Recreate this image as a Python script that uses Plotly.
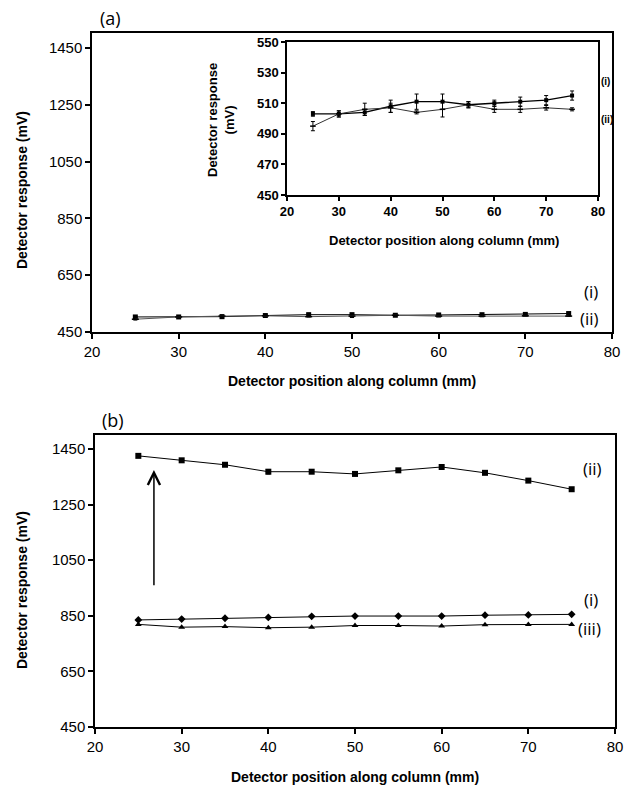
import plotly.graph_objects as go

# ---------------- data ----------------
positions = [25, 30, 35, 40, 45, 50, 55, 60, 65, 70, 75]

# panel (a) (same data shown in main plot and inset)
a_i = [503, 503, 504, 508, 511, 511, 509, 510, 511, 512, 515]
a_i_err = [1.5, 2, 2, 4, 5, 5, 2, 2, 3, 3, 3]
a_ii = [495, 503, 506, 507, 504, 506, 509, 506, 506, 507, 506]
a_ii_err = [3, 2, 4, 3, 1, 5, 2, 2, 2, 1.5, 1]

# panel (b)
b_ii = [1425, 1409, 1393, 1368, 1368, 1360, 1373, 1385, 1364, 1336, 1305]
b_ii_err = [3, 3, 3, 8, 4, 6, 3, 5, 5, 3, 3]
b_i = [835, 838, 841, 844, 848, 849, 849, 849, 852, 853, 855]
b_iii = [819, 809, 811, 807, 809, 815, 815, 813, 818, 819, 819]

main_yticks = [450, 650, 850, 1050, 1250, 1450]
inset_yticks = [450, 470, 490, 510, 530, 550]
xticks = [20, 30, 40, 50, 60, 70, 80]

W, H = 626, 791
def px(x): return x / W
def py(y): return 1 - y / H

fig = go.Figure()

line = dict(color="black", width=1)

def err(v):
    return dict(type="data", array=v, color="black", thickness=1, width=2)

# panel (a) main
fig.add_trace(go.Scatter(x=positions, y=a_i, error_y=err(a_i_err), mode="lines+markers",
                         line=line, marker=dict(symbol="square", size=5, color="black"),
                         xaxis="x", yaxis="y", showlegend=False))
fig.add_trace(go.Scatter(x=positions, y=a_ii, error_y=err(a_ii_err), mode="lines+markers",
                         line=dict(color="#555", width=1), marker=dict(symbol="line-ew", size=5, line=dict(width=1.5, color="black")),
                         xaxis="x", yaxis="y", showlegend=False))
# inset
fig.add_trace(go.Scatter(x=positions, y=a_i, error_y=err(a_i_err), mode="lines+markers",
                         line=dict(color="black", width=1.3), marker=dict(symbol="square", size=4, color="black"),
                         xaxis="x3", yaxis="y3", showlegend=False))
fig.add_trace(go.Scatter(x=positions, y=a_ii, error_y=err(a_ii_err), mode="lines+markers",
                         line=dict(color="#333", width=1), marker=dict(symbol="line-ew", size=4, line=dict(width=1.5, color="black")),
                         xaxis="x3", yaxis="y3", showlegend=False))
# panel (b)
fig.add_trace(go.Scatter(x=positions, y=b_ii, error_y=err(b_ii_err), mode="lines+markers",
                         line=line, marker=dict(symbol="square", size=6, color="black"),
                         xaxis="x2", yaxis="y2", showlegend=False))
fig.add_trace(go.Scatter(x=positions, y=b_i, mode="lines+markers",
                         line=line, marker=dict(symbol="diamond", size=6, color="black"),
                         xaxis="x2", yaxis="y2", showlegend=False))
fig.add_trace(go.Scatter(x=positions, y=b_iii, mode="lines+markers",
                         line=line, marker=dict(symbol="triangle-up", size=6, color="black"),
                         xaxis="x2", yaxis="y2", showlegend=False))

tickfont = dict(family="Liberation Sans, Arial", size=15, color="black")
axcommon = dict(showgrid=False, zeroline=False, showline=True, linecolor="black", linewidth=1.5,
                mirror=True, ticks="outside", ticklen=5, tickwidth=1.5, tickcolor="black",
                tickfont=tickfont)

inset_tickfont = dict(family="Liberation Sans, Arial", size=13, color="black", weight="bold")
inaxcommon = dict(showgrid=False, zeroline=False, showline=True, linecolor="black", linewidth=1.5,
                  mirror=True, ticks="outside", ticklen=4, tickwidth=1.5, tickcolor="black",
                  tickfont=inset_tickfont)

fig.update_layout(
    width=W, height=H, margin=dict(l=0, r=0, t=0, b=0, autoexpand=False),
    paper_bgcolor="white", plot_bgcolor="white",
    xaxis=dict(domain=[px(92), px(612)], range=[20, 80], tickvals=xticks, anchor="y", **axcommon),
    yaxis=dict(domain=[py(332), py(33)], range=[450, 1503], tickvals=main_yticks, anchor="x", **axcommon),
    xaxis2=dict(domain=[px(95), px(615)], range=[20, 80], tickvals=xticks, anchor="y2", **axcommon),
    yaxis2=dict(domain=[py(727), py(435)], range=[450, 1500], tickvals=main_yticks, anchor="x2", **axcommon),
    xaxis3=dict(domain=[px(287), px(598)], range=[20, 80], tickvals=xticks, anchor="y3", **inaxcommon),
    yaxis3=dict(domain=[py(195), py(42)], range=[450, 550], tickvals=inset_yticks, anchor="x3", **inaxcommon),
)

title_font = dict(family="Liberation Sans, Arial", size=14, color="black", weight="bold")
lab_font = dict(family="Open Sans, Noto Sans", size=17, color="black")

ann = []
def A(text, x, y, font, rot=0, xanchor="center", yanchor="middle"):
    ann.append(dict(text=text, x=px(x), y=py(y), xref="paper", yref="paper", showarrow=False,
                    font=font, textangle=rot, xanchor=xanchor, yanchor=yanchor))

A("Detector response (mV)", 22, 190, title_font, rot=-90)
A("Detector position along column (mm)", 352, 381, title_font)
A("Detector response (mV)", 22, 590, title_font, rot=-90)
A("Detector position along column (mm)", 355, 777, title_font)
A("Detector response<br>(mV)", 221, 120, dict(family="Liberation Sans, Arial", size=13, color="black", weight="bold"), rot=-90)
A("Detector position along column (mm)", 444, 240, dict(family="Liberation Sans, Arial", size=13, color="black", weight="bold"))
A("(a)", 110, 18, dict(family="Open Sans, Noto Sans", size=18, color="black"))
A("(b)", 113, 420, dict(family="Open Sans, Noto Sans", size=18, color="black"))
A("(i)", 582, 291, lab_font, xanchor="left")
A("(ii)", 578, 318, lab_font, xanchor="left")
A("(ii)", 581, 468, lab_font, xanchor="left")
A("(i)", 582, 599, lab_font, xanchor="left")
A("(iii)", 576, 628, lab_font, xanchor="left")
A("(i)", 599, 82, dict(family="Liberation Sans, Arial", size=10, color="black", weight="bold"), xanchor="left")
A("(ii)", 599, 119, dict(family="Liberation Sans, Arial", size=10, color="black", weight="bold"), xanchor="left")

# arrow in panel (b)
ann.append(dict(x=26.8, y=1374, ax=26.8, ay=954, xref="x2", yref="y2", axref="x2", ayref="y2",
                showarrow=True, arrowhead=5, arrowsize=1.6, arrowwidth=1.5, arrowcolor="black", text=""))

fig.update_layout(annotations=ann)
fig.write_html("out.html", config={"displayModeBar": False},
               post_script="document.body.style.margin='0';document.body.style.overflow='hidden';")
